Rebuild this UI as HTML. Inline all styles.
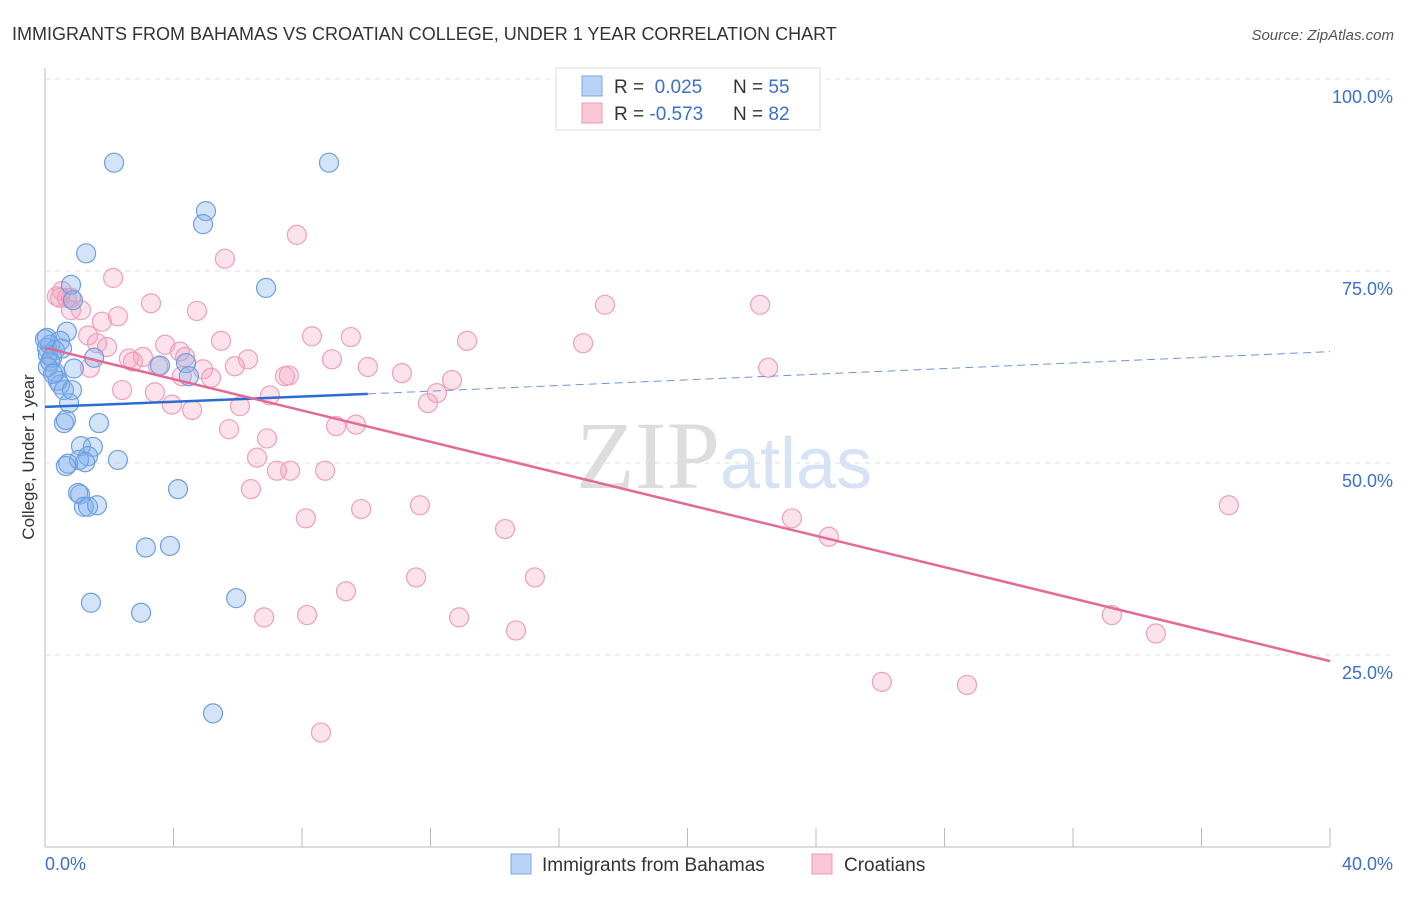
<!DOCTYPE html>
<html><head><meta charset="utf-8"><style>
body{margin:0;background:#fff;font-family:"Liberation Sans",sans-serif;}
</style></head><body>
<svg id="c" width="1406" height="892" xmlns="http://www.w3.org/2000/svg" style="font-family:'Liberation Sans',sans-serif">
<text x="12" y="40" font-size="18" fill="#333">IMMIGRANTS FROM BAHAMAS VS CROATIAN COLLEGE, UNDER 1 YEAR CORRELATION CHART</text>
<text x="1394" y="40" font-size="15" fill="#555" font-style="italic" text-anchor="end">Source: ZipAtlas.com</text>
<text x="720" y="488" font-size="96" fill="#ddd" text-anchor="end" font-family="Liberation Serif">ZIP</text>
<text x="720" y="488" font-size="72" fill="#d5e3f5">atlas</text>
<g id="grid"></g><g id="marks"></g>
<text transform="translate(34,457) rotate(-90)" font-size="17" fill="#333" text-anchor="middle">College, Under 1 year</text>
<g>
<rect x="556" y="68" width="264" height="62" fill="#fff" stroke="#ddd"/>
<rect x="582" y="76" width="20" height="20" fill="#b8d3f5" stroke="#7aa8e6"/>
<rect x="582" y="103" width="20" height="20" fill="#f9c6d5" stroke="#ec9ab5"/>
<text x="614" y="93" font-size="19" fill="#333">R = <tspan fill="#3a70c9">&#160;0.025</tspan><tspan x="733">N = </tspan><tspan fill="#3a70c9">55</tspan></text>
<text x="614" y="120" font-size="19" fill="#333">R = <tspan fill="#3a70c9">-0.573</tspan><tspan x="733">N = </tspan><tspan fill="#3a70c9">82</tspan></text>
</g>
<g>
<rect x="511" y="854" width="20" height="20" fill="#b8d3f5" stroke="#7aa8e6"/>
<text x="542" y="871" font-size="19" fill="#333">Immigrants from Bahamas</text>
<rect x="812" y="854" width="20" height="20" fill="#f9c6d5" stroke="#ec9ab5"/>
<text x="844" y="871" font-size="19" fill="#333">Croatians</text>
</g>
</svg>
<script>
const blueX=[2.15,8.84,5.01,4.92,1.28,6.88,0.81,0.87,0.68,0.06,0.47,0.06,0.31,0.09,1.53,0.16,0.90,0.31,0.40,0.47,0.59,0.75,3.58,4.39,4.48,0.59,1.68,1.49,1.12,2.27,1.34,1.06,0.72,0.65,1.09,1.03,4.14,1.21,1.34,1.62,3.14,3.89,1.43,2.99,5.95,5.23,0.16,0.22,0,0.53,0.09,0.25,0.84,0.65,1.25];
const blueY=[89.1,89.1,82.8,81.1,77.3,72.8,73.2,71.2,67.1,66.3,65.9,65.0,64.7,64.1,63.7,63.2,62.3,61.8,60.7,60.2,59.5,57.8,62.7,63.0,61.3,55.2,55.2,52.1,52.2,50.4,50.9,50.4,49.9,49.6,45.9,46.1,46.6,44.3,44.3,44.5,39.0,39.2,31.8,30.5,32.4,17.4,65.4,63.7,66.1,64.9,62.5,61.6,59.5,55.6,50.1];
const pinkX=[7.84,5.60,2.12,0.37,0.68,0.81,1.12,3.30,4.73,17.43,22.26,2.27,1.77,8.31,9.52,1.34,5.48,3.74,13.14,16.75,1.62,1.93,2.61,2.74,3.05,3.52,4.20,4.36,6.32,8.93,10.05,5.91,4.92,5.17,4.26,7.59,7.47,11.11,12.67,22.51,1.40,2.40,3.42,7.00,6.07,3.95,12.20,11.92,4.58,5.73,9.06,9.68,6.91,6.60,7.22,7.63,8.72,6.41,8.12,9.84,11.67,14.32,23.25,24.40,36.85,9.37,11.55,15.25,6.82,8.16,12.89,14.66,33.21,34.58,26.05,28.70,8.59,0.53,0.81,0.47];
const pinkY=[79.7,76.6,74.1,71.7,71.5,69.9,69.9,70.8,69.8,70.6,70.6,69.1,68.4,66.5,66.4,66.6,65.9,65.4,65.9,65.6,65.6,65.1,63.6,63.2,63.8,62.6,64.5,63.8,63.5,63.5,62.5,62.6,62.2,61.1,61.3,61.4,61.3,61.7,60.8,62.4,62.4,59.5,59.2,58.8,57.4,57.6,59.1,57.8,56.9,54.4,54.8,55.0,53.2,50.7,49.0,49.0,49.0,46.6,42.8,44.0,44.5,41.4,42.8,40.4,44.5,33.3,35.1,35.1,29.9,30.2,29.9,28.2,30.2,27.8,21.5,21.1,14.9,72.4,71.5,71.5];
const yTicks=[25,50,75,100];
const yTickLabels=["25.0%","50.0%","75.0%","100.0%"];
const xTicks=[0,4,8,12,16,20,24,28,32,36,40];
const blueTrend=[57.3,59.0,64.5]; // at x=0, 10.05, 40
const pinkTrend=[65.0,24.2]; // at x=0, 40
const NS='http://www.w3.org/2000/svg';
const X=v=>45+v*1285/40, Y=v=>847-v*7.68;
function mk(tag,attrs,parent){const e=document.createElementNS(NS,tag);for(const k in attrs)e.setAttribute(k,attrs[k]);parent.appendChild(e);return e;}
const grid=document.getElementById('grid'), marks=document.getElementById('marks');
let ax=mk('line',{x1:45,y1:68,x2:45,y2:847,stroke:'#bbb'},grid);


let bx=mk('line',{x1:45,y1:847,x2:1330,y2:847,stroke:'#bbb'},grid);


yTicks.forEach((t,i)=>{
 const g=mk('line',{x1:45,y1:Y(t),x2:1394,y2:Y(t),stroke:'#ddd','stroke-dasharray':'5,5'},grid);
 
 
 const l=mk('text',{x:1393,y:Y(t)+24,'font-size':18,fill:'#3a70c9','text-anchor':'end'},grid);
 l.textContent=yTickLabels[i];
 
 
});
xTicks.forEach((t,i)=>{
 if(i===0)return;
 const tk=mk('line',{x1:X(t),y1:828,x2:X(t),y2:847,stroke:'#bbb'},grid);
 
 
});
let xl0=mk('text',{x:45,y:870,'font-size':18,fill:'#3a70c9'},grid);xl0.textContent='0.0%';


let xl1=mk('text',{x:1393,y:870,'font-size':18,fill:'#3a70c9','text-anchor':'end'},grid);xl1.textContent='40.0%';


pinkX.forEach((v,i)=>{
 const c=mk('circle',{cx:X(v),cy:Y(pinkY[i]),r:9.5,fill:'rgba(244,160,188,0.3)',stroke:'#eea0b9','stroke-width':1.2},marks);
 
 
});
blueX.forEach((v,i)=>{
 const c=mk('circle',{cx:X(v),cy:Y(blueY[i]),r:9.5,fill:'rgba(130,175,235,0.35)',stroke:'#6d9fe2','stroke-width':1.2},marks);
 
 
});
let t1=mk('line',{x1:X(0),y1:Y(blueTrend[0]),x2:X(10.05),y2:Y(blueTrend[1]),stroke:'#2a6dd2','stroke-width':2.5},marks);


let t2=mk('line',{x1:X(10.05),y1:Y(blueTrend[1]),x2:X(40),y2:Y(blueTrend[2]),stroke:'#6a98dc','stroke-width':1,'stroke-dasharray':'8,5'},marks);


let t3=mk('line',{x1:X(0),y1:Y(pinkTrend[0]),x2:X(40),y2:Y(pinkTrend[1]),stroke:'#e46a96','stroke-width':2.5},marks);


</script>
</body></html>
